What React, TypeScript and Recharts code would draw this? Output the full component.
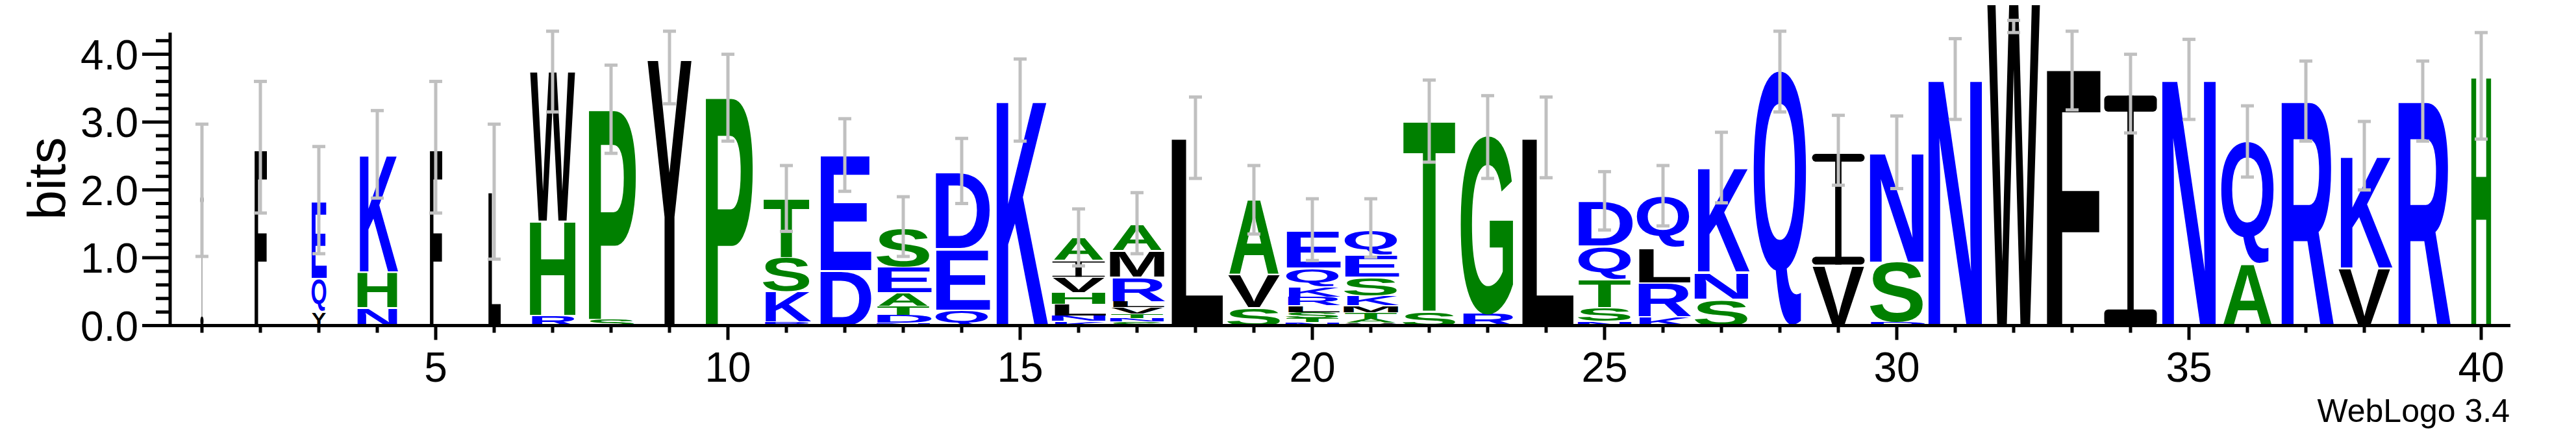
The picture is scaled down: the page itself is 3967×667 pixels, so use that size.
import React from "react";
import { Bar, ComposedChart, ErrorBar, Line, XAxis, YAxis } from "recharts";

// sequence positions 1..40
const positions = Array.from({ length: 40 }, (_, i) => i + 1);

// letters of each stack, bottom to top
const stackLetters = [
  "I", "F", "YQE", "NHK", "F", "L", "RHW", "SP", "Y", "P",
  "RKST", "DE", "NDTAES", "QED", "K", "KNLHVIA", "SNTVLRMA", "L", "SVA", "NTSLRKQE",
  "VATMKSEQ", "ST", "RG", "L", "NSTQD", "KRLQ", "SNK", "Q", "VI", "DSN",
  "N", "W", "F", "I", "N", "AQ", "R", "VK", "R", "H",
];

// letter heights in bits, same order
const stackHeights = [
  [1.95], [2.6], [0.22, 0.48, 1.14], [0.27, 0.53, 1.72], [2.6],
  [1.98], [0.16, 1.39, 2.21], [0.1, 3.09], [3.93], [3.37],
  [0.06, 0.45, 0.5, 0.87], [0.82, 1.7], [0.04, 0.12, 0.13, 0.2, 0.39, 0.57], [0.24, 0.9, 1.13], [3.31],
  [0.07, 0.08, 0.17, 0.17, 0.23, 0.25, 0.34], [0.06, 0.05, 0.07, 0.09, 0.09, 0.36, 0.4, 0.4], [2.77], [0.27, 0.49, 1.1],
  [0.05, 0.06, 0.09, 0.1, 0.13, 0.15, 0.28, 0.55],
  [0.04, 0.06, 0.1, 0.1, 0.15, 0.27, 0.33, 0.38], [0.22, 2.8], [0.2, 2.58], [2.77], [0.07, 0.2, 0.42, 0.49, 0.66],
  [0.14, 0.5, 0.52, 0.76], [0.4, 0.4, 1.53], [3.73], [0.9, 1.66], [0.06, 0.88, 1.61],
  [3.62], [4.8], [3.78], [3.42], [3.62],
  [0.92, 1.79], [3.31], [0.86, 1.64], [3.31], [3.67],
];

// column weight (fraction of sequences without a gap)
const stackWeights = [
  0.06, 0.23, 0.28, 0.74, 0.23, 0.24, 0.85, 0.88, 0.88, 0.88,
  0.88, 0.94, 1, 1, 1, 1, 1, 1, 1, 1,
  1, 1, 1, 1, 1, 1, 1, 1, 1, 1,
  1, 1, 1, 1, 1, 1, 1, 1, 1, 0.37,
];

// error bar low / high, bits
const errorLow = [
  1.02, 1.66, 1.06, 1.88, 1.66, 0.98, 3.15, 2.54, 3.27, 2.72,
  1.39, 1.98, 1.02, 1.8, 2.72, 0.88, 1.06, 2.17, 1.35, 0.96,
  1.01, 2.41, 2.17, 2.18, 1.41, 1.47, 1.81, 3.15, 2.07, 2.02,
  3.04, 4.32, 3.18, 2.84, 3.04, 2.19, 2.72, 2.0, 2.72, 2.75,
];
const errorHigh = [
  2.97, 3.6, 2.64, 3.17, 3.6, 2.97, 4.34, 3.84, 4.34, 4.0,
  2.36, 3.05, 1.9, 2.76, 3.93, 1.72, 1.96, 3.37, 2.36, 1.87,
  1.87, 3.62, 3.39, 3.37, 2.27, 2.36, 2.85, 4.34, 3.1, 3.09,
  4.23, 4.5, 4.34, 4.0, 4.22, 3.24, 3.9, 3.01, 3.9, 4.32,
];

const yTicks = [0, 0.2, 0.4, 0.6, 0.8, 1, 1.2, 1.4, 1.6, 1.8, 2, 2.2, 2.4, 2.6, 2.8, 3, 3.2, 3.4, 3.6, 3.8, 4, 4.2];

const AXIS_TOP = 4.32;
const Y_MAX = 4.8;
const W = 3967;
const H = 667;
const PLOT_H = 501.6;
const PX_PER_BIT = PLOT_H / Y_MAX;
const FULL_W = 81;
const FONT = "'Liberation Sans', Arial, Helvetica, sans-serif";
const MAX_LAYERS = 8;

const BLUE = "RKDENQ";
const GREEN = "SGHTAP";
const colorOf = (c: string) => (BLUE.includes(c) ? "#0000ff" : GREEN.includes(c) ? "#008000" : "#000000");

// ink width of bold glyphs, in em
const INK: Record<string, number> = {
  A: 0.72, C: 0.64, D: 0.6, E: 0.55, F: 0.5, G: 0.68, H: 0.58, I: 0.14, K: 0.66, L: 0.53,
  M: 0.68, N: 0.58, P: 0.56, Q: 0.7, R: 0.64, S: 0.6, T: 0.6, V: 0.67, W: 0.94, Y: 0.67,
};
const CAP = 0.688;

const data = positions.map((pos, i) => {
  const row: any = { pos, chars: stackLetters[i], weight: stackWeights[i] };
  let total = 0;
  stackHeights[i].forEach((h, j) => {
    row[`h${j}`] = h;
    total += h;
  });
  row.total = total;
  row.err = [total - errorLow[i], errorHigh[i] - total];
  return row;
});

const Glyph = (props: any) => {
  const { x, y, width, height, payload, layer } = props;
  const ch = payload?.chars?.[layer];
  if (!ch || !(height > 0)) return null;
  const gap = Math.min(3, height * 0.1);
  const top = y + gap;
  const h = height - gap;
  const bottom = y + height;
  const inkW = FULL_W * payload.weight;
  const cx = x + width / 2;
  const color = colorOf(ch);
  if (ch === "I") {
    const barH = h * 0.07;
    const stem = Math.max(inkW * 0.12, 0.6);
    return (
      <g fill={color}>
        <rect x={cx - inkW / 2} y={top} width={inkW} height={barH} rx={Math.min(barH / 2, 6)} />
        <rect x={cx - stem / 2} y={top} width={stem} height={h} />
        <rect x={cx - inkW / 2} y={bottom - barH} width={inkW} height={barH} rx={Math.min(barH / 2, 6)} />
      </g>
    );
  }
  const desc = ch === "Q" ? 0.2 : 0;
  const sx = inkW / (INK[ch] * 100);
  const sy = h / ((CAP + desc) * 100);
  return (
    <text
      x={0}
      y={0}
      transform={`translate(${cx},${bottom - desc * 100 * sy}) scale(${sx},${sy})`}
      textAnchor="middle"
      fontSize={100}
      fontWeight="bold"
      fontFamily={FONT}
      fill={color}
    >
      {ch}
    </text>
  );
};

const YTick = (props: any) => {
  const { x, y, payload } = props;
  const v = payload.value;
  if (Math.abs(v - AXIS_TOP) < 1e-6) {
    return <line x1={x} x2={x} y1={y} y2={y + AXIS_TOP * PX_PER_BIT + 2.5} stroke="#000" strokeWidth={5} />;
  }
  const major = Math.abs(v - Math.round(v)) < 1e-6;
  return (
    <g>
      <line x1={x - (major ? 43 : 22)} x2={x} y1={y} y2={y} stroke="#000" strokeWidth={5} />
      {major && (
        <text x={x - 49} y={y + 23} textAnchor="end" fontSize={64} fontFamily={FONT} fill="#000">
          {v.toFixed(1)}
        </text>
      )}
    </g>
  );
};

const XTick = (props: any) => {
  const { x, y, payload } = props;
  const major = payload.value % 5 === 0;
  return (
    <g>
      <line x1={x} x2={x} y1={y} y2={y + (major ? 22 : 11)} stroke="#000" strokeWidth={5} />
      {major && (
        <text x={x} y={y + 86} textAnchor="middle" fontSize={64} fontFamily={FONT} fill="#000">
          {payload.value}
        </text>
      )}
    </g>
  );
};

const BitsLabel = () => (
  <text transform="translate(100,275) rotate(-90)" textAnchor="middle" fontSize={82} fontFamily={FONT} fill="#000">
    bits
  </text>
);

const Credit = () => (
  <text x={3865} y={650} textAnchor="end" fontSize={50} fontFamily={FONT} fill="#000">
    WebLogo 3.4
  </text>
);

const layers = Array.from({ length: MAX_LAYERS }, (_, i) => i);

export default function App() {
  return (
    <div style={{ margin: "-8px 0 0 -8px", background: "#fff", width: W, height: H }}>
      <ComposedChart
        width={W}
        height={H}
        data={data}
        margin={{ top: 0, right: 101, bottom: 0, left: 0 }}
        barCategoryGap={0}
        barGap={0}
      >
        <XAxis
          dataKey="pos"
          type="category"
          interval={0}
          height={H - PLOT_H}
          padding={{ left: 4, right: 0 }}
          tickLine={false}
          tickSize={0}
          tickMargin={0}
          axisLine={{ stroke: "#000", strokeWidth: 5 }}
          tick={<XTick />}
          label={<Credit />}
        />
        <YAxis
          type="number"
          domain={[0, Y_MAX]}
          ticks={[...yTicks, AXIS_TOP]}
          interval={0}
          width={262}
          tickLine={false}
          tickSize={0}
          tickMargin={0}
          axisLine={false}
          tick={<YTick />}
          label={<BitsLabel />}
        />
        {layers.map((i) => (
          <Bar
            key={i}
            dataKey={`h${i}`}
            stackId="logo"
            isAnimationActive={false}
            shape={(p: any) => <Glyph {...p} layer={i} />}
          />
        ))}
        <Line dataKey="total" stroke="none" dot={false} activeDot={false} isAnimationActive={false}>
          <ErrorBar dataKey="err" width={10} stroke="#c0c0c0" strokeWidth={5} direction="y" />
        </Line>
      </ComposedChart>
    </div>
  );
}
